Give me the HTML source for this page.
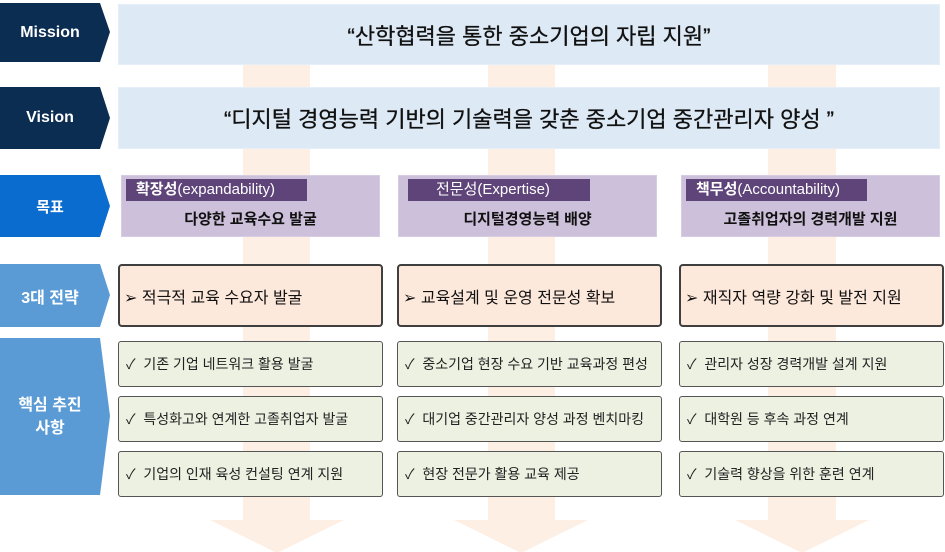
<!DOCTYPE html>
<html><head><meta charset="utf-8"><style>
body{margin:0;width:945px;height:552px;background:#fff;position:relative;overflow:hidden;font-family:"Liberation Sans","Noto Sans CJK KR",sans-serif}
.a{position:absolute;box-sizing:border-box}
.band{background:#fdefe4}
.chev{display:flex;align-items:center;justify-content:center;color:#fff;font-weight:bold;padding-right:10px;text-align:center}
.big{background:#dde9f5;border:1px solid #e6eef8;display:flex;align-items:center;justify-content:center;font-size:22px;color:#111;-webkit-text-stroke:0.3px #111}
.goal{background:#ccc0da;border:1px solid #d7cde3}
.tag{background:#5f4479;color:#fff;font-size:15px;padding-left:10px;line-height:22px}
.gt{font-weight:bold;font-size:15px;text-align:center;color:#111}
.st{background:#fde9dc;border:2px solid #3f3f3f;border-radius:4px;display:flex;align-items:center;padding-left:4px;font-size:16px;color:#111}
.it{background:#ecf1e1;border:1.5px solid #555;border-radius:3px;display:flex;align-items:center;padding-left:7px;font-size:14px;color:#222}
</style></head><body>
<div class="a band" style="left:243px;top:62px;width:67px;height:460px"></div>
<div class="a band" style="left:488px;top:62px;width:67px;height:460px"></div>
<div class="a band" style="left:768px;top:62px;width:68px;height:460px"></div>
<svg class="a" style="left:0;top:0" width="945" height="552"><g fill="#fdefe4"><polygon points="210,520 344,520 277,553"/><polygon points="454,520 588,520 521,553"/><polygon points="735,520 869,520 802,553"/></g></svg>

<svg class="a" style="left:0;top:0" width="120" height="552">
<polygon points="0,3 100,3 110,32 100,62 0,62" fill="#0c2d52"/>
<polygon points="0,87 100,87 110,118 100,149 0,149" fill="#0c2d52"/>
<polygon points="0,175 100,175 110,206 100,237 0,237" fill="#0a6cce"/>
<polygon points="0,264 100,264 110,295 100,327 0,327" fill="#5b9bd5"/>
<polygon points="0,338 100,338 110,416 100,495 0,495" fill="#5b9bd5"/>
</svg>
<div class="a chev" style="left:0;top:3px;width:110px;height:59px;font-size:16px">Mission</div>
<div class="a chev" style="left:0;top:87px;width:110px;height:62px;font-size:16px">Vision</div>
<div class="a chev" style="left:0;top:175px;width:110px;height:62px;font-size:15px">목표</div>
<div class="a chev" style="left:0;top:264px;width:110px;height:63px;font-size:16px">3대 전략</div>
<div class="a chev" style="left:0;top:338px;width:110px;height:157px;font-size:16px;line-height:23px">핵심 추진<br>사항</div>

<div class="a big" style="left:118px;top:4px;width:822px;height:61px">“산학협력을 통한 중소기업의 자립 지원”</div>
<div class="a big" style="left:118px;top:87px;width:822px;height:62px">“디지털 경영능력 기반의 기술력을 갖춘 중소기업 중간관리자 양성 ”</div>

<div class="a goal" style="left:121px;top:175px;width:259px;height:62px"></div>
<div class="a tag" style="left:126px;top:179px;width:181px"><b>확장성</b>(expandability)</div>
<div class="a gt" style="left:121px;top:208px;width:259px">다양한 교육수요 발굴</div>
<div class="a goal" style="left:398px;top:175px;width:259px;height:62px"></div>
<div class="a tag" style="left:408px;top:179px;width:182px;padding-left:28px">전문성(Expertise)</div>
<div class="a gt" style="left:398px;top:208px;width:259px">디지털경영능력 배양</div>
<div class="a goal" style="left:681px;top:175px;width:259px;height:62px"></div>
<div class="a tag" style="left:686px;top:179px;width:181px"><b>책무성</b>(Accountability)</div>
<div class="a gt" style="left:681px;top:208px;width:259px">고졸취업자의 경력개발 지원</div>

<div class="a st" style="left:118px;top:264px;width:265px;height:63px">➢ 적극적 교육 수요자 발굴</div>
<div class="a st" style="left:397px;top:264px;width:265px;height:63px">➢ 교육설계 및 운영 전문성 확보</div>
<div class="a st" style="left:679px;top:264px;width:265px;height:63px">➢ 재직자 역량 강화 및 발전 지원</div>

<div class="a it" style="left:118px;top:341px;width:265px;height:46px">✓&nbsp; 기존 기업 네트워크 활용 발굴</div>
<div class="a it" style="left:118px;top:396px;width:265px;height:46px">✓&nbsp; 특성화고와 연계한 고졸취업자 발굴</div>
<div class="a it" style="left:118px;top:451px;width:265px;height:46px">✓&nbsp; 기업의 인재 육성 컨설팅 연계 지원</div>
<div class="a it" style="left:397px;top:341px;width:265px;height:46px">✓&nbsp; 중소기업 현장 수요 기반 교육과정 편성</div>
<div class="a it" style="left:397px;top:396px;width:265px;height:46px">✓&nbsp; 대기업 중간관리자 양성 과정 벤치마킹</div>
<div class="a it" style="left:397px;top:451px;width:265px;height:46px">✓&nbsp; 현장 전문가 활용 교육 제공</div>
<div class="a it" style="left:679px;top:341px;width:265px;height:46px">✓&nbsp; 관리자 성장 경력개발 설계 지원</div>
<div class="a it" style="left:679px;top:396px;width:265px;height:46px">✓&nbsp; 대학원 등 후속 과정 연계</div>
<div class="a it" style="left:679px;top:451px;width:265px;height:46px">✓&nbsp; 기술력 향상을 위한 훈련 연계</div>
</body></html>
